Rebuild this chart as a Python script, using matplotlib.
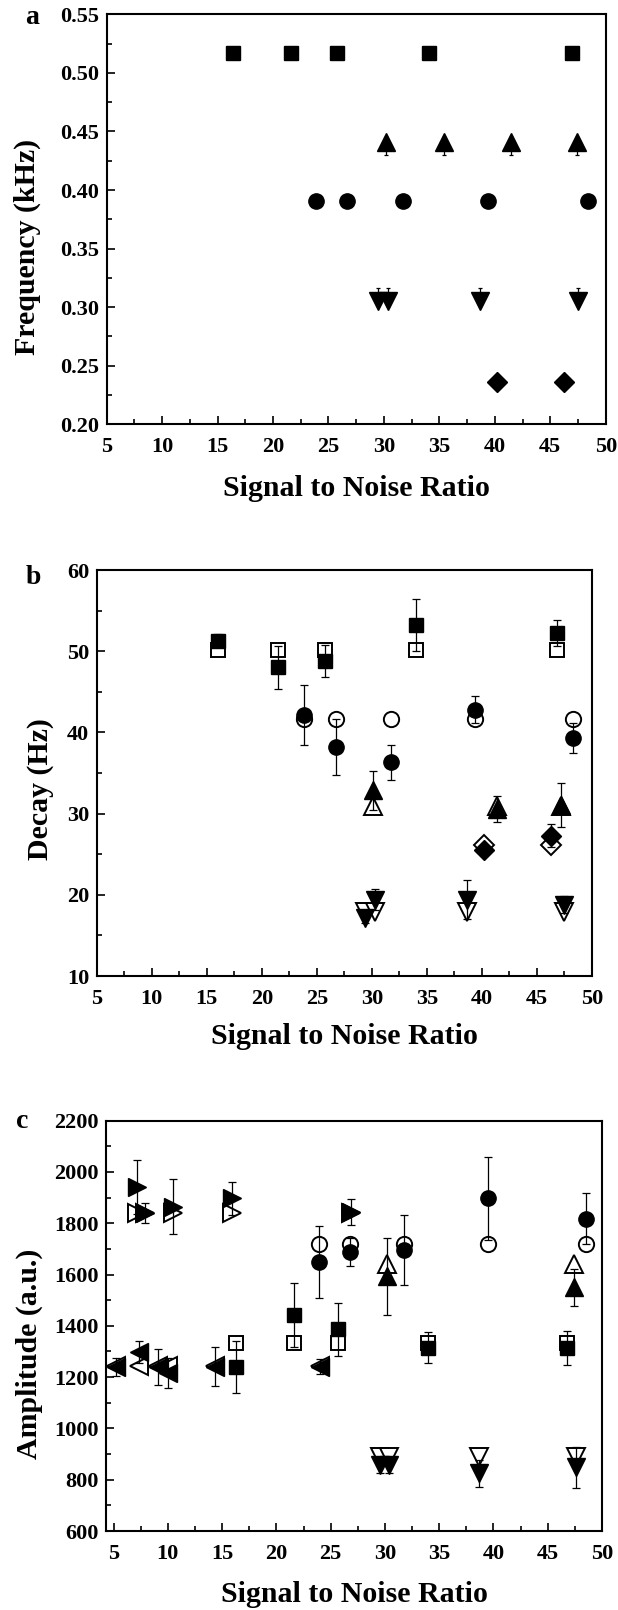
import matplotlib
matplotlib.use('Agg')
import matplotlib.pyplot as plt
from matplotlib.ticker import MultipleLocator, FormatStrFormatter

plt.rcParams['font.family'] = ['Liberation Serif', 'DejaVu Serif']
plt.rcParams['font.weight'] = 'bold'

# ---------------- Panel a : Frequency (kHz) ----------------
a_sq_x = [16.4, 21.6, 25.8, 34.1, 47.0]
a_sq_y = [0.517, 0.517, 0.517, 0.517, 0.517]
a_tu_x = [30.2, 35.4, 41.5, 47.4]
a_tu_y = [0.441, 0.441, 0.441, 0.441]
a_ci_x = [23.9, 26.7, 31.7, 39.4, 48.4]
a_ci_y = [0.391, 0.391, 0.391, 0.391, 0.391]
a_td_x = [29.5, 30.4, 38.7, 47.5]
a_td_y = [0.305, 0.305, 0.305, 0.305]
a_di_x = [40.2, 46.2]
a_di_y = [0.236, 0.236]
a_err_small = 0.004
a_err_stem = 0.0115

# ---------------- Panel b : Decay (Hz) ----------------
b_sq_x = [16.0, 21.5, 25.7, 34.0, 46.8]
b_sq_est = [51.3, 48.0, 48.8, 53.2, 52.3]
b_sq_err = [0.8, 2.6, 2.0, 3.2, 1.6]
b_sq_true = [50.2, 50.2, 50.2, 50.2, 50.2]
b_ci_x = [23.8, 26.7, 31.7, 39.4, 48.3]
b_ci_est = [42.1, 38.2, 36.3, 42.8, 39.3]
b_ci_err = [3.7, 3.5, 2.2, 1.7, 1.8]
b_ci_true = [41.7, 41.7, 41.7, 41.7, 41.7]
b_tu_x = [30.1, 41.4, 47.2]
b_tu_est = [32.9, 30.6, 31.1]
b_tu_err = [2.4, 1.6, 2.7]
b_tu_true = [30.9, 30.9, 30.9]
b_di_x = [40.2, 46.3]
b_di_est = [25.5, 27.3]
b_di_err = [0.6, 1.4]
b_di_true = [26.1, 26.1]
b_td_x = [29.4, 30.3, 38.6, 47.5]
b_td_est = [17.1, 19.4, 19.4, 18.8]
b_td_err = [0.6, 1.3, 2.4, 1.1]
b_td_true = [17.9, 17.9, 17.9, 17.9]

# ---------------- Panel c : Amplitude (a.u.) ----------------
c_tr_x = [7.2, 7.9, 10.5, 15.9, 26.9]
c_tr_est = [1940, 1840, 1865, 1897, 1845]
c_tr_err = [105, 40, 108, 63, 50]
c_tr_true = [1840, 1840, 1840, 1840, 1840]
c_tl_x = [5.2, 7.3, 9.1, 10.0, 14.3, 24.0]
c_tl_est = [1241, 1299, 1241, 1215, 1241, 1241]
c_tl_err = [35, 42, 70, 58, 75, 30]
c_tl_true = [1245, 1245, 1245, 1245, 1245, 1245]
c_sq_x = [16.3, 21.6, 25.7, 34.0, 46.8]
c_sq_est = [1240, 1442, 1386, 1315, 1314]
c_sq_err = [100, 126, 102, 60, 65]
c_sq_true = [1335, 1335, 1335, 1335, 1335]
c_ci_x = [23.9, 26.8, 31.8, 39.5, 48.5]
c_ci_est = [1648, 1689, 1696, 1897, 1818]
c_ci_err = [140, 55, 137, 163, 99]
c_ci_true = [1718, 1718, 1718, 1718, 1718]
c_tu_x = [30.2, 47.4]
c_tu_est = [1594, 1550]
c_tu_err = [150, 71]
c_tu_true = [1642, 1642]
c_td_x = [29.5, 30.4, 38.7, 47.6]
c_td_est = [858, 858, 825, 849]
c_td_err = [30, 30, 53, 80]
c_td_true = [890, 890, 890, 890]

W, H = 618, 1610
fig = plt.figure(figsize=(W / 100, H / 100), dpi=100)


def add_axes(l, r, t, b):
    return fig.add_axes([l / W, 1 - b / H, (r - l) / W, (b - t) / H])


def style(ax, xlim, ylim, ymaj, ymin, yfmt):
    ax.set_xlim(*xlim)
    ax.set_ylim(*ylim)
    ax.xaxis.set_major_locator(MultipleLocator(5))
    ax.xaxis.set_minor_locator(MultipleLocator(2.5))
    ax.yaxis.set_major_locator(MultipleLocator(ymaj))
    ax.yaxis.set_minor_locator(MultipleLocator(ymin))
    ax.yaxis.set_major_formatter(FormatStrFormatter(yfmt))
    ax.xaxis.set_major_formatter(FormatStrFormatter('%d'))
    ax.tick_params(which='both', direction='in', top=False, right=False,
                   width=1.2, colors='black')
    ax.tick_params(which='major', length=6, labelsize=16)
    ax.tick_params(which='minor', length=3.6)
    ax.tick_params(axis='x', which='major', pad=9.5)
    ax.tick_params(axis='y', which='major', pad=5.5)
    for sp in ax.spines.values():
        sp.set_linewidth(1.5)


MS = {'s': 10, 'o': 11, '^': 13, 'v': 13, '<': 13, '>': 13, 'D': 10}


def open_pts(ax, x, y, m):
    ax.plot(x, y, ls='none', marker=m, ms=MS[m], mfc='white', mec='black',
            mew=1.4, zorder=3)


def filled(ax, x, y, e, m, cap=3):
    ax.errorbar(x, y, yerr=e, fmt=m, ms=MS[m], mfc='black', mec='black',
                color='black', ecolor='black', elinewidth=0.9, capsize=cap,
                capthick=0.9, zorder=4)


# Panel a
axA = add_axes(106.7, 605.7, 14.3, 424.3)
style(axA, (5, 50), (0.20, 0.55), 0.05, 0.025, '%.2f')
filled(axA, a_sq_x, a_sq_y, a_err_small, 's', cap=1.5)
filled(axA, a_tu_x, a_tu_y,
       [[a_err_stem] * len(a_tu_x), [a_err_small] * len(a_tu_x)], '^', cap=1.5)
filled(axA, a_ci_x, a_ci_y, a_err_small, 'o', cap=1.5)
filled(axA, a_td_x, a_td_y,
       [[a_err_small] * len(a_td_x), [a_err_stem] * len(a_td_x)], 'v', cap=1.5)
filled(axA, a_di_x, a_di_y, a_err_small, 'D', cap=1.5)

# Panel b
axB = add_axes(96.7, 592, 570, 976)
style(axB, (5, 50), (10, 60), 10, 5, '%d')
open_pts(axB, b_sq_x, b_sq_true, 's')
open_pts(axB, b_ci_x, b_ci_true, 'o')
open_pts(axB, b_tu_x, b_tu_true, '^')
open_pts(axB, b_di_x, b_di_true, 'D')
open_pts(axB, b_td_x, b_td_true, 'v')
filled(axB, b_sq_x, b_sq_est, b_sq_err, 's')
filled(axB, b_ci_x, b_ci_est, b_ci_err, 'o')
filled(axB, b_tu_x, b_tu_est, b_tu_err, '^')
filled(axB, b_di_x, b_di_est, b_di_err, 'D')
filled(axB, b_td_x, b_td_est, b_td_err, 'v')

# Panel c
axC = add_axes(106, 602, 1120.7, 1531)
style(axC, (4.3, 50), (600, 2200), 200, 100, '%d')
open_pts(axC, c_tr_x, c_tr_true, '>')
open_pts(axC, c_tl_x, c_tl_true, '<')
open_pts(axC, c_sq_x, c_sq_true, 's')
open_pts(axC, c_ci_x, c_ci_true, 'o')
open_pts(axC, c_tu_x, c_tu_true, '^')
open_pts(axC, c_td_x, c_td_true, 'v')
filled(axC, c_tr_x, c_tr_est, c_tr_err, '>')
filled(axC, c_tl_x, c_tl_est, c_tl_err, '<')
filled(axC, c_sq_x, c_sq_est, c_sq_err, 's')
filled(axC, c_ci_x, c_ci_est, c_ci_err, 'o')
filled(axC, c_tu_x, c_tu_est, c_tu_err, '^')
filled(axC, c_td_x, c_td_est, c_td_err, 'v')


def ftext(x, y, s, **kw):
    fig.text(x / W, 1 - y / H, s, ha='center', va='center',
             fontweight='bold', **kw)


LAB = 21.5
ftext(32, 18, 'a', fontsize=20)
ftext(33, 577, 'b', fontsize=20)
ftext(22, 1121, 'c', fontsize=20)

ftext(27.6, 247, 'Frequency (kHz)', fontsize=LAB, rotation=90)
ftext(40, 789, 'Decay (Hz)', fontsize=LAB, rotation=90)
ftext(29.6, 1354, 'Amplitude (a.u.)', fontsize=LAB, rotation=90)

ftext((106.7 + 605.7) / 2, 488, 'Signal to Noise Ratio', fontsize=LAB)
ftext((96.7 + 592) / 2, 1036, 'Signal to Noise Ratio', fontsize=LAB)
ftext((106 + 602) / 2, 1594, 'Signal to Noise Ratio', fontsize=LAB)

fig.savefig('out.png', dpi=100)
